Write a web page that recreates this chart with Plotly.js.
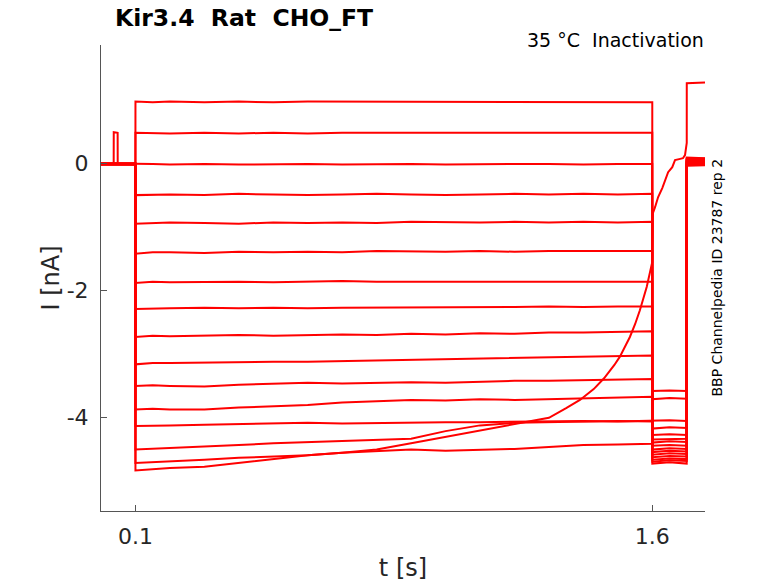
<!DOCTYPE html>
<html>
<head>
<meta charset="utf-8">
<script src="https://cdn.plot.ly/plotly-3.0.1.min.js"></script>
<style>
  html, body { margin: 0; padding: 0; background: #fff; }
  #chart { width: 778px; height: 583px; }
</style>
</head>
<body>
<div id="chart"></div>
<script>
// time points [s] for each part of the protocol
const tBase = [0, 0.0999];
const tSpike = [0, 0.0368, 0.0370, 0.0483, 0.0485, 0.0999];
const tPre = [0.1, 0.15, 0.2, 0.3, 0.4, 0.5, 0.6, 0.7, 0.8, 0.9, 1.0, 1.1, 1.2, 1.3, 1.4, 1.5, 1.6];
const tTest = [1.6001, 1.65, 1.6999];
const tTail = [1.7001, 1.753];

// holding current before the step [nA], one per sweep
const baseI = [-0.01, -0.02, 0.0, -0.01, -0.02, -0.01, 0.0, -0.02, -0.01, -0.01, -0.02, 0.0, -0.01, -0.02, -0.01, -0.01];
// the one sweep with a short blip before the step
const spikeI = [-0.01, -0.01, 0.49, 0.48, -0.01, -0.01];

// prepulse currents [nA] read at tPre
const prepulse = [
  [0.97, 0.96, 0.97, 0.96, 0.97, 0.96, 0.97, 0.97, 0.96, 0.97, 0.96, 0.97, 0.96, 0.97, 0.96, 0.97, 0.96],
  [0.48, 0.47, 0.47, 0.48, 0.47, 0.48, 0.47, 0.48, 0.48, 0.47, 0.48, 0.48, 0.47, 0.48, 0.47, 0.48, 0.48],
  [-0.01, -0.01, -0.02, -0.01, -0.02, -0.01, -0.01, -0.02, -0.01, -0.01, -0.02, -0.01, -0.01, -0.01, -0.02, -0.01, -0.01],
  [-0.50, -0.49, -0.49, -0.50, -0.48, -0.49, -0.50, -0.49, -0.48, -0.49, -0.50, -0.49, -0.48, -0.49, -0.48, -0.49, -0.48],
  [-0.95, -0.94, -0.93, -0.94, -0.95, -0.93, -0.94, -0.93, -0.94, -0.92, -0.93, -0.93, -0.92, -0.93, -0.92, -0.93, -0.92],
  [-1.42, -1.40, -1.40, -1.41, -1.39, -1.40, -1.39, -1.40, -1.38, -1.39, -1.39, -1.38, -1.39, -1.38, -1.38, -1.39, -1.38],
  [-1.88, -1.86, -1.87, -1.86, -1.86, -1.87, -1.86, -1.85, -1.86, -1.86, -1.85, -1.86, -1.85, -1.86, -1.85, -1.85, -1.86],
  [-2.29, -2.28, -2.28, -2.27, -2.28, -2.27, -2.28, -2.27, -2.27, -2.26, -2.27, -2.26, -2.26, -2.25, -2.26, -2.25, -2.25],
  [-2.73, -2.71, -2.72, -2.71, -2.70, -2.71, -2.70, -2.69, -2.70, -2.68, -2.69, -2.67, -2.68, -2.66, -2.66, -2.65, -2.64],
  [-3.16, -3.14, -3.14, -3.13, -3.13, -3.12, -3.12, -3.11, -3.10, -3.10, -3.09, -3.08, -3.07, -3.06, -3.05, -3.04, -3.02],
  [-3.50, -3.49, -3.50, -3.51, -3.48, -3.46, -3.45, -3.46, -3.45, -3.44, -3.45, -3.43, -3.42, -3.42, -3.41, -3.40, -3.39],
  [-3.87, -3.86, -3.87, -3.87, -3.84, -3.82, -3.80, -3.76, -3.74, -3.72, -3.73, -3.71, -3.72, -3.71, -3.69, -3.68, -3.67],
  [-4.13, -4.12, -4.12, -4.11, -4.10, -4.09, -4.08, -4.09, -4.08, -4.08, -4.07, -4.07, -4.06, -4.05, -4.05, -4.06, -4.05],
  [-4.50, -4.49, -4.48, -4.46, -4.43, -4.40, -4.38, -4.36, -4.35, -4.33, -4.21, -4.12, -4.08, -4.07, -4.06, -4.05, -4.06],
  [-4.71, -4.70, -4.68, -4.66, -4.63, -4.61, -4.59, -4.55, -4.52, -4.50, -4.52, -4.51, -4.49, -4.46, -4.43, -4.42, -4.41]
];

// test pulse currents [nA] read at tTest
const testPulse = [
  [-4.72, -4.70, -4.72], [-4.69, -4.67, -4.68], [-4.66, -4.64, -4.65], [-4.62, -4.60, -4.61],
  [-4.58, -4.56, -4.57], [-4.54, -4.52, -4.53], [-4.50, -4.48, -4.49], [-4.44, -4.43, -4.44],
  [-4.39, -4.37, -4.38], [-4.34, -4.33, -4.33], [-4.27, -4.26, -4.27], [-4.17, -4.15, -4.16],
  [-4.05, -4.04, -4.05], [-3.71, -3.69, -3.70], [-3.58, -3.57, -3.58]
];

// tail currents [nA] read at tTail
const tail = [
  [0.08, 0.07], [0.06, 0.05], [0.09, 0.08], [0.04, 0.05], [0.07, 0.06], [0.02, 0.03], [0.05, 0.04], [0.00, 0.01],
  [0.03, 0.02], [-0.02, -0.01], [0.01, 0.00], [-0.04, -0.03], [0.06, 0.07], [-0.01, -0.02], [0.03, 0.04]
];

// the sweep whose current rises off at the end
const tRise = [0.1, 0.15, 0.2, 0.3, 0.4, 0.5, 0.6, 0.7, 0.8, 0.9, 1.0, 1.1, 1.2, 1.3, 1.35, 1.39, 1.43, 1.46, 1.49, 1.506, 1.535, 1.55, 1.564, 1.584, 1.6];
const riseI = [-4.83, -4.81, -4.79, -4.77, -4.71, -4.64, -4.59, -4.55, -4.50, -4.40, -4.30, -4.19, -4.10, -4.00, -3.85, -3.72, -3.55, -3.38, -3.17, -3.04, -2.73, -2.53, -2.31, -1.94, -1.55];
const tRiseTest = [1.602, 1.608, 1.617, 1.629, 1.637, 1.646, 1.658, 1.666, 1.681, 1.689, 1.695, 1.698, 1.7];
const riseTestI = [-0.78, -0.69, -0.53, -0.39, -0.26, -0.14, -0.06, 0.05, 0.07, 0.08, 0.13, 0.25, 0.32];
const riseTail = [1.26, 1.27];

const RED = '#ff0000';
const FONT = 'DejaVu Sans, Liberation Sans, sans-serif';

let traces = [];
for (let i = 0; i < prepulse.length; i++) {
  let tb = tBase, ib = [baseI[i], baseI[i]];
  if (i == 1) {
    tb = tSpike;
    ib = spikeI;
  }
  traces.push({
    x: tb.concat(tPre, tTest, tTail),
    y: ib.concat(prepulse[i], testPulse[i], tail[i]),
    type: 'scatter',
    mode: 'lines',
    line: {color: RED, width: 2},
    hoverinfo: 'skip'
  });
}
let last = baseI[baseI.length - 1];
traces.push({
  x: tBase.concat(tRise, tRiseTest, tTail),
  y: [last, last].concat(riseI, riseTestI, riseTail),
  type: 'scatter',
  mode: 'lines',
  line: {color: RED, width: 2},
  hoverinfo: 'skip'
});

let layout = {
  width: 778,
  height: 583,
  margin: {l: 101, r: 73, t: 45, b: 72},
  paper_bgcolor: '#fff',
  plot_bgcolor: '#fff',
  showlegend: false,
  font: {family: FONT, color: '#262626'},
  title: {
    text: 'Kir3.4\u00a0 Rat\u00a0 CHO_FT',
    font: {family: FONT, size: 23.5, weight: 'bold', color: '#000'},
    xref: 'container', x: 115 / 778, xanchor: 'left',
    yref: 'container', y: 1 - 18 / 583, yanchor: 'middle'
  },
  xaxis: {
    range: [0, 1.753],
    tickvals: [0.1, 1.6],
    ticktext: ['0.1', '1.6'],
    ticks: 'inside', ticklen: 6, tickcolor: '#555',
    showline: true, linecolor: '#555', linewidth: 1,
    showgrid: false, zeroline: false,
    tickfont: {family: FONT, size: 22, color: '#262626'},
    ticklabelstandoff: 6,
    title: {text: 't [s]', font: {family: FONT, size: 24, color: '#262626'}, standoff: 10}
  },
  yaxis: {
    range: [-5.466, 1.86],
    tickvals: [0, -2, -4],
    ticktext: ['0', '-2', '-4'],
    ticks: 'inside', ticklen: 6, tickcolor: '#555',
    showline: true, linecolor: '#555', linewidth: 1,
    showgrid: false, zeroline: false,
    tickfont: {family: FONT, size: 22, color: '#262626'},
    ticklabelstandoff: 7,
    title: {text: 'I [nA]', font: {family: FONT, size: 24, color: '#262626'}, standoff: 0}
  },
  annotations: [
    {
      text: '35 °C\u00a0 Inactivation',
      xref: 'paper', x: (706 - 101) / 604, xanchor: 'right',
      yref: 'paper', y: (511 - 40) / 466, yanchor: 'middle',
      showarrow: false,
      font: {family: FONT, size: 19, color: '#000'}
    },
    {
      text: 'BBP Channelpedia ID 23787 rep 2',
      xref: 'paper', x: (716 - 101) / 604, xanchor: 'center',
      yref: 'paper', y: (511 - 277.5) / 466, yanchor: 'middle',
      textangle: -90,
      showarrow: false,
      font: {family: FONT, size: 14, color: '#000'}
    }
  ]
};

Plotly.newPlot('chart', traces, layout, {displayModeBar: false, staticPlot: true});
</script>
</body>
</html>
